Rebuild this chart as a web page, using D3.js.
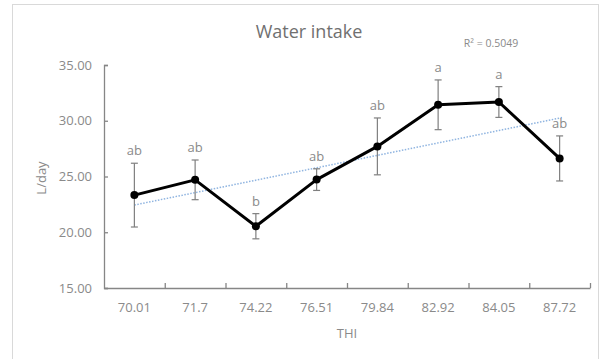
<!DOCTYPE html>
<html>
<head>
<meta charset="utf-8">
<script src="https://cdn.jsdelivr.net/npm/d3@7"></script>
<style>
  body { margin: 0; background: #fff; }
  svg { display: block; font-family: "Open Sans", sans-serif; }
</style>
</head>
<body>
<svg id="chart" width="604" height="359"></svg>
<script>
// data
const thi = ["70.01", "71.7", "74.22", "76.51", "79.84", "82.92", "84.05", "87.72"];
const intake = [23.33, 24.7, 20.54, 24.72, 27.7, 31.43, 31.68, 26.62];
const errs = [2.86, 1.78, 1.13, 0.97, 2.55, 2.23, 1.38, 2.02];
const letters = ["ab", "ab", "b", "ab", "ab", "a", "a", "ab"];
const yTicks = [15, 20, 25, 30, 35];

const width = 604, height = 359;
const margin = { top: 65, right: 14, bottom: 71, left: 104 };

const svg = d3.select("#chart");

// outer chart border
svg.append("rect")
  .attr("x", 12.5).attr("y", 4.5)
  .attr("width", 586).attr("height", 362)
  .attr("fill", "none").attr("stroke", "#d9d9d9");

const x = d3.scaleBand()
  .domain(thi)
  .range([margin.left, width - margin.right])
  .padding(0);

const xEdge = d3.scaleLinear()
  .domain([0, thi.length])
  .range([margin.left, width - margin.right]);

const y = d3.scaleLinear()
  .domain([15, 35])
  .range([height - margin.bottom, margin.top]);

const cx = d => x(d) + x.bandwidth() / 2;
const axisColor = "#868686", textColor = "#8a8a8a";

// y axis (ticks inside)
const yAxis = svg.append("g")
  .attr("transform", `translate(${margin.left},0)`)
  .call(d3.axisRight(y).tickValues(yTicks).tickSize(4).tickFormat(""));
yAxis.select(".domain").attr("stroke", axisColor).attr("stroke-width", 1.3);
yAxis.selectAll(".tick line").attr("stroke", axisColor).attr("stroke-width", 1.3);

svg.append("g").selectAll("text")
  .data(yTicks)
  .join("text")
  .attr("x", margin.left - 12)
  .attr("y", d => y(d) + 4.5)
  .attr("text-anchor", "end")
  .attr("font-size", 13)
  .attr("fill", textColor)
  .text(d => d.toFixed(2));

// x axis with ticks between categories
const xAxis = svg.append("g")
  .attr("transform", `translate(0,${height - margin.bottom})`)
  .call(d3.axisTop(xEdge).tickValues(d3.range(1, thi.length + 1)).tickSize(5).tickFormat("").tickSizeOuter(0));
xAxis.select(".domain").attr("stroke", axisColor).attr("stroke-width", 1.3);
xAxis.selectAll(".tick line").attr("stroke", axisColor).attr("stroke-width", 1.3);

svg.append("g").selectAll("text")
  .data(thi)
  .join("text")
  .attr("x", d => cx(d))
  .attr("y", height - margin.bottom + 24)
  .attr("text-anchor", "middle")
  .attr("font-size", 13)
  .attr("fill", textColor)
  .text(d => d);

// axis titles
svg.append("text")
  .attr("x", 347).attr("y", 338)
  .attr("text-anchor", "middle")
  .attr("font-size", 13)
  .attr("fill", textColor)
  .text("THI");

svg.append("text")
  .attr("transform", "translate(46,178) rotate(-90)")
  .attr("text-anchor", "middle")
  .attr("font-size", 13)
  .attr("fill", textColor)
  .text("L/day");

// title
svg.append("text")
  .attr("x", 309).attr("y", 38)
  .attr("text-anchor", "middle")
  .attr("font-size", 18)
  .attr("fill", "#707070")
  .text("Water intake");

svg.append("text")
  .attr("x", 491).attr("y", 47)
  .attr("text-anchor", "middle")
  .attr("font-size", 10.5)
  .attr("fill", textColor)
  .text("R² = 0.5049");

// linear trend line (least squares on category index)
const idx = d3.range(1, thi.length + 1);
const mx = d3.mean(idx), my = d3.mean(intake);
const slope = d3.sum(idx, (i, k) => (i - mx) * (intake[k] - my)) / d3.sum(idx, i => (i - mx) ** 2);
const icpt = my - slope * mx;
svg.append("line")
  .attr("x1", cx(thi[0])).attr("y1", y(icpt + slope * 1))
  .attr("x2", cx(thi[thi.length - 1]) + 3).attr("y2", y(icpt + slope * 8.05))
  .attr("stroke", "#8fb4e0")
  .attr("stroke-width", 1.5)
  .attr("stroke-dasharray", "1.5,1.5");

// error bars
const eb = svg.append("g").attr("stroke", "#7f7f7f").attr("stroke-width", 1.2);
thi.forEach((t, i) => {
  const xc = cx(t), top = y(intake[i] + errs[i]), bot = y(intake[i] - errs[i]);
  eb.append("line").attr("x1", xc).attr("x2", xc).attr("y1", top).attr("y2", bot);
  eb.append("line").attr("x1", xc - 3.5).attr("x2", xc + 3.5).attr("y1", top).attr("y2", top);
  eb.append("line").attr("x1", xc - 3.5).attr("x2", xc + 3.5).attr("y1", bot).attr("y2", bot);
});

// main line
const line = d3.line()
  .x((d, i) => cx(thi[i]))
  .y(d => y(d));
svg.append("path")
  .datum(intake)
  .attr("d", line)
  .attr("fill", "none")
  .attr("stroke", "#000")
  .attr("stroke-width", 3)
  .attr("stroke-linejoin", "round");

svg.append("g").selectAll("circle")
  .data(intake)
  .join("circle")
  .attr("cx", (d, i) => cx(thi[i]))
  .attr("cy", d => y(d))
  .attr("r", 4)
  .attr("fill", "#000");

// significance letters
svg.append("g").selectAll("text")
  .data(letters)
  .join("text")
  .attr("x", (d, i) => cx(thi[i]))
  .attr("y", (d, i) => y(intake[i] + errs[i]) - 8)
  .attr("text-anchor", "middle")
  .attr("font-size", 13)
  .attr("fill", textColor)
  .text(d => d);
</script>
</body>
</html>
